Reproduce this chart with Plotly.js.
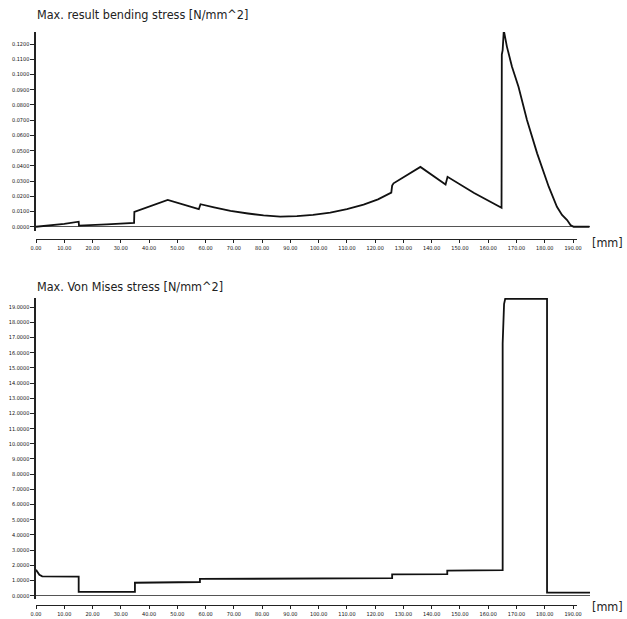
<!DOCTYPE html>
<html>
<head>
<meta charset="utf-8">
<script src="https://cdn.plot.ly/plotly-3.0.1.min.js"></script>
<style>html,body{margin:0;padding:0;background:#fff;}#chart{width:627px;height:619px;}</style>
</head>
<body>
<div id="chart"></div>
<script>
// Position along the part [mm]
var bendX = [0, 5, 10, 15.1, 15.2, 25, 34.7, 34.8, 46.6, 57.6, 58.2, 63, 68.8, 75, 80.5, 86.4, 92.3, 98, 104.1, 110, 115.9, 121, 125.7, 126.0, 126.5, 136, 144.9, 145.6, 155, 164.7, 164.8, 165.1, 165.5, 166.6, 168.4, 170.7, 173.7, 177.3, 181.4, 184.3, 186.1, 187.9, 189.1, 190.2, 195.8];
// Max. result bending stress [N/mm^2]
var bendY = [0, 0.0008, 0.0019, 0.0033, 0.0007, 0.0015, 0.0026, 0.0098, 0.0176, 0.0115, 0.0148, 0.0127, 0.0104, 0.0087, 0.0074, 0.0067, 0.0070, 0.0078, 0.0093, 0.0115, 0.0145, 0.0180, 0.0224, 0.0270, 0.0285, 0.0393, 0.0278, 0.0328, 0.0222, 0.0125, 0.113, 0.116, 0.129, 0.1183, 0.1051, 0.0920, 0.0701, 0.0482, 0.0263, 0.0131, 0.0077, 0.0044, 0.0011, 0, 0];

var vmX = [0, 0.5, 1.2, 2.2, 15.1, 15.1, 35.0, 35.0, 58.0, 58.0, 126.0, 126.0, 145.5, 145.5, 165.1, 165.1, 165.6, 166.0, 180.8, 180.8, 196];
// Max. Von Mises stress [N/mm^2]
var vmY = [1.70, 1.55, 1.38, 1.27, 1.25, 0.25, 0.25, 0.85, 0.90, 1.10, 1.15, 1.40, 1.42, 1.65, 1.68, 16.6, 19.2, 19.55, 19.55, 0.2, 0.2];

var titleTop = "Max. result bending stress [N/mm^2]";
var titleBottom = "Max. Von Mises stress [N/mm^2]";
var unitLabel = "[mm]";

var W = 627, H = 619;
function fx(px){ return px / W; }
function fy(py){ return 1 - py / H; }

var FONT = "DejaVu Sans Condensed, Liberation Sans Narrow, sans-serif";
var axisColor = "#222";

var tickAxis = function(pos){
  return {
    anchor: "free", position: pos,
    domain: [fx(36), fx(577)], range: [0, 191.4],
    showline: true, linecolor: axisColor, linewidth: 1.3,
    ticks: "outside", ticklen: 3, tickwidth: 1, tickcolor: axisColor,
    dtick: 10, tick0: 0, tickformat: ".2f",
    tickfont: {family: FONT, size: 5.5, color: "#111"},
    showgrid: false, zeroline: false, fixedrange: true
  };
};
var dataXAxis = function(yname){
  return {
    anchor: yname, domain: [fx(36), fx(590)], range: [0, 196],
    visible: true, showline: false, ticks: "", showticklabels: false,
    showgrid: false, zeroline: false
  };
};
var yAxis = function(xname, dom, rng, dt){
  return {
    anchor: xname, side: "left", domain: dom, range: rng,
    showline: true, linecolor: axisColor, linewidth: 1.6, mirror: false,
    ticks: "outside", ticklen: 4, tickwidth: 1, tickcolor: axisColor,
    dtick: dt, tick0: 0, tickformat: ".4f",
    tickfont: {family: FONT, size: 5.5, color: "#111"},
    showgrid: false, zeroline: true, zerolinecolor: "#555", zerolinewidth: 1
  };
};

var data = [
  {x: bendX, y: bendY, xaxis: "x3", yaxis: "y", type: "scatter", mode: "lines",
   line: {color: "#111", width: 1.8}, hoverinfo: "skip"},
  {x: vmX, y: vmY, xaxis: "x4", yaxis: "y2", type: "scatter", mode: "lines",
   line: {color: "#111", width: 1.8}, hoverinfo: "skip"},
  // transparent copies so that the tick-only x axes get their own subplots and are drawn
  {x: bendX, y: bendY, xaxis: "x", yaxis: "y", type: "scatter", mode: "lines",
   opacity: 0, line: {color: "#111", width: 1}, hoverinfo: "skip"},
  {x: vmX, y: vmY, xaxis: "x2", yaxis: "y2", type: "scatter", mode: "lines",
   opacity: 0, line: {color: "#111", width: 1}, hoverinfo: "skip"}
];

var layout = {
  width: W, height: H,
  margin: {l: 0, r: 0, t: 0, b: 0},
  paper_bgcolor: "#fff", plot_bgcolor: "rgba(0,0,0,0)",
  showlegend: false,
  xaxis: tickAxis(fy(239)),
  xaxis2: tickAxis(fy(605)),
  xaxis3: dataXAxis("y"),
  xaxis4: dataXAxis("y2"),
  yaxis: yAxis("x3", [fy(231), fy(32)], [-0.0028, 0.1279], 0.01),
  yaxis2: yAxis("x4", [fy(599), fy(298)], [-0.22, 19.6], 1),
  annotations: [
    {text: titleTop, xref: "paper", yref: "paper", x: fx(35), y: fy(15), xanchor: "left", yanchor: "middle",
     showarrow: false, font: {family: FONT, size: 12.5, color: "#222"}},
    {text: titleBottom, xref: "paper", yref: "paper", x: fx(35), y: fy(286), xanchor: "left", yanchor: "middle",
     showarrow: false, font: {family: FONT, size: 12.5, color: "#222"}},
    {text: unitLabel, xref: "paper", yref: "paper", x: fx(590), y: fy(242), xanchor: "left", yanchor: "middle",
     showarrow: false, font: {family: FONT, size: 12.5, color: "#222"}},
    {text: unitLabel, xref: "paper", yref: "paper", x: fx(590), y: fy(606), xanchor: "left", yanchor: "middle",
     showarrow: false, font: {family: FONT, size: 12.5, color: "#222"}}
  ]
};

Plotly.newPlot("chart", data, layout, {staticPlot: true, displayModeBar: false}).then(function(gd){
  // nothing else
});
</script>
</body>
</html>
